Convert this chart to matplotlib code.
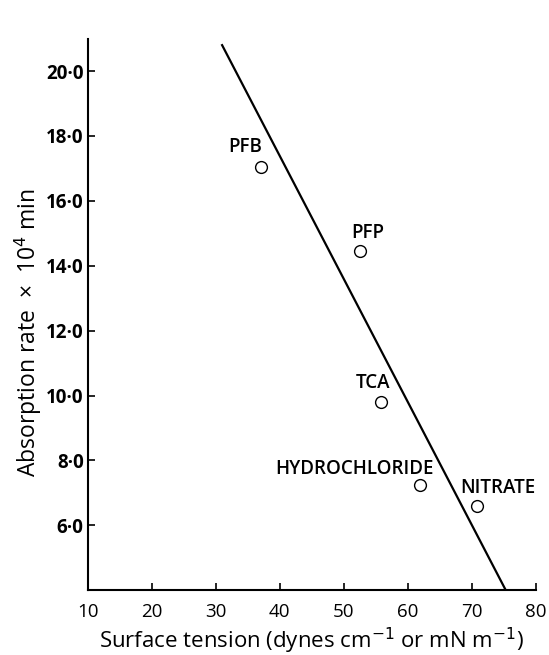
import matplotlib
matplotlib.use("Agg")
import matplotlib.pyplot as plt
from matplotlib.ticker import FuncFormatter

plt.rcParams['font.family'] = ['Open Sans', 'DejaVu Sans']

# Measured compounds: surface tension vs absorption rate
names = ["PFB", "PFP", "TCA", "HYDROCHLORIDE", "NITRATE"]
surface_tension = [37.0, 52.5, 55.8, 61.9, 70.8]
absorption_rate = [17.05, 14.45, 9.8, 7.25, 6.6]

# Fitted regression line (end points)
fit_x = [30.9, 75.3]
fit_y = [20.83, 4.0]

x_ticks = [10, 20, 30, 40, 50, 60, 70, 80]
y_ticks = [6, 8, 10, 12, 14, 16, 18, 20]

# label offsets (points) and alignment for each compound
label_offsets = [(-11, 14), (6, 13), (-6, 14), (10, 11), (15, 13)]
label_ha = ["center", "center", "center", "right", "center"]

fig = plt.figure(figsize=(5.49, 6.55), dpi=100)
ax = fig.add_axes([0.160, 0.099, 0.816, 0.842])

ax.plot(fit_x, fit_y, color="black", lw=1.6, solid_capstyle="butt")
ax.plot(surface_tension, absorption_rate, linestyle="none", marker="o",
        markersize=8.5, markerfacecolor="white", markeredgecolor="black",
        markeredgewidth=1.0)

for name, x, y, off, ha in zip(names, surface_tension, absorption_rate,
                               label_offsets, label_ha):
    ax.annotate(name, (x, y), xytext=off, textcoords="offset points",
                ha=ha, va="center", fontsize=13.5, fontweight="semibold")

ax.set_xlim(10, 80)
ax.set_ylim(4.0, 21.0)
ax.set_xticks(x_ticks)
ax.set_yticks(y_ticks)
ax.yaxis.set_major_formatter(FuncFormatter(lambda v, p: f"{v:.1f}".replace(".", "\u00b7")))

for s in ("top", "right"):
    ax.spines[s].set_visible(False)
for s in ("left", "bottom"):
    ax.spines[s].set_linewidth(1.5)

ax.tick_params(axis="y", direction="in", length=5, width=1.2, pad=3,
               labelsize=13.5)
ax.tick_params(axis="x", direction="in", length=5, width=1.2, pad=9,
               labelsize=13.5)
for lbl in ax.get_yticklabels():
    lbl.set_fontweight("bold")

ax.set_xlabel("Surface tension (dynes cm$^{-1}$ or mN m$^{-1}$)", fontsize=16,
              labelpad=4)
fig.text(28 / 549, 1 - 333 / 655, "Absorption rate  \u00d7  10$^{4}$ min",
         rotation=90, ha="center", va="center", fontsize=16.5)

fig.savefig("out.png", dpi=100)
